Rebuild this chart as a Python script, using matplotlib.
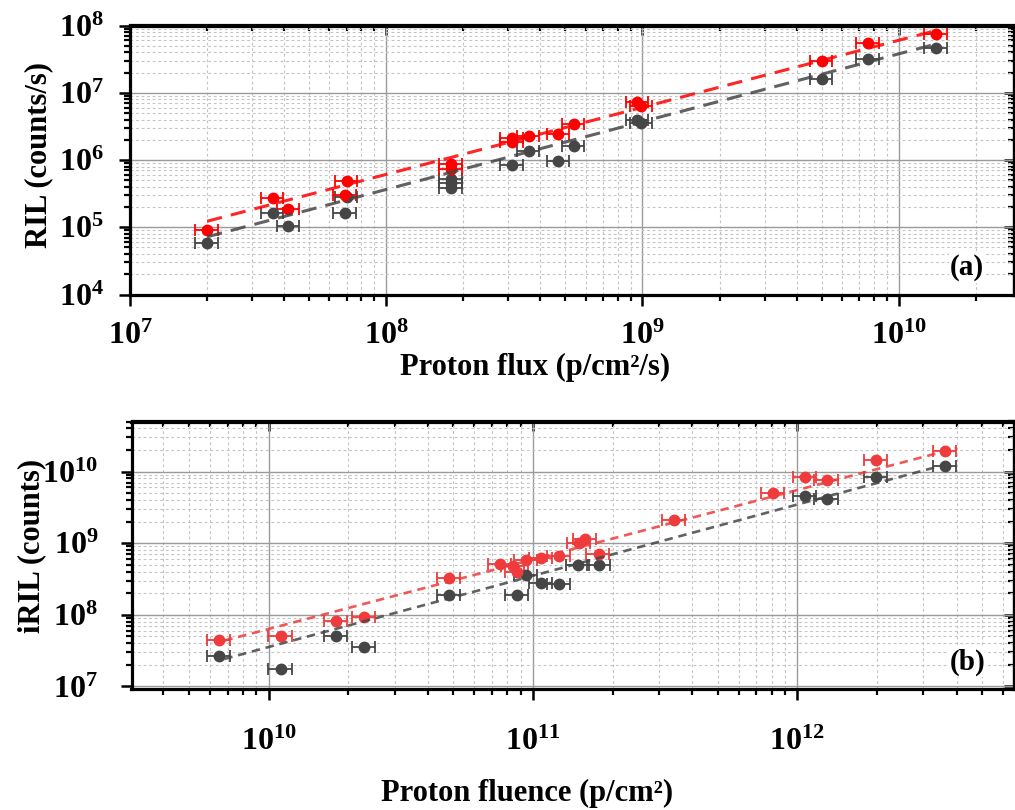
import numpy as np
import matplotlib
matplotlib.use("Agg")
import matplotlib.pyplot as plt
from matplotlib.ticker import LogLocator, FuncFormatter, NullFormatter

plt.rcParams['font.family'] = ['Liberation Serif', 'DejaVu Serif']
plt.rcParams['font.weight'] = 'bold'
plt.rcParams['mathtext.fontset'] = 'custom'
plt.rcParams['mathtext.rm'] = 'Liberation Serif:bold'
plt.rcParams['mathtext.bf'] = 'Liberation Serif:bold'
plt.rcParams['mathtext.it'] = 'Liberation Serif:bold:italic'

# ---------------- Panel (a): RIL vs proton flux ----------------
flux_red = [2.0e7, 3.6e7, 4.15e7, 7.0e7, 6.9e7, 1.79e8, 1.79e8, 3.1e8, 3.1e8,
            3.6e8, 4.7e8, 5.4e8, 9.55e8, 9.9e8, 5.0e9, 7.6e9, 1.4e10]
ril_red = [9.0e4, 2.75e5, 1.85e5, 4.9e5, 3.0e5, 8.6e5, 7.4e5, 2.1e6, 1.85e6,
           2.25e6, 2.45e6, 3.45e6, 7.3e6, 6.3e6, 2.95e7, 5.5e7, 7.5e7]

flux_grey = [2.0e7, 3.6e7, 4.15e7, 6.9e7, 7.0e7, 1.79e8, 1.79e8, 1.79e8, 3.1e8,
             3.6e8, 4.7e8, 5.4e8, 9.55e8, 9.9e8, 5.0e9, 7.6e9, 1.4e10]
ril_grey = [5.8e4, 1.65e5, 1.06e5, 1.65e5, 2.8e5, 5.3e5, 4.5e5, 3.9e5, 8.3e5,
            1.35e6, 9.6e5, 1.6e6, 4.0e6, 3.6e6, 1.6e7, 3.2e7, 4.6e7]

# power-law fits (log10 y = slope * log10 x + intercept) and x-range of each fit line
fitA_red = [0.997, -2.190]
fitA_grey = [1.008, -2.502]
fitA_range = [2.0e7, 1.4e10]

# ---------------- Panel (b): iRIL vs proton fluence ----------------
flu_red = [6.5e9, 1.11e10, 1.8e10, 2.3e10, 4.8e10, 7.5e10, 8.4e10, 8.7e10, 9.4e10,
           1.07e11, 1.26e11, 1.49e11, 1.58e11, 1.77e11, 3.43e11, 8.1e11, 1.07e12,
           1.29e12, 1.98e12, 3.62e12]
iril_red = [4.4e7, 5.0e7, 8.1e7, 9.3e7, 3.25e8, 5.15e8, 4.8e8, 4.0e8, 5.9e8,
            6.2e8, 6.7e8, 1.02e9, 1.15e9, 7.1e8, 2.12e9, 5.1e9, 8.5e9,
            7.7e9, 1.46e10, 1.95e10]

flu_grey = [6.5e9, 1.11e10, 1.8e10, 2.3e10, 4.8e10, 8.7e10, 9.4e10, 1.07e11,
            1.26e11, 1.48e11, 1.78e11, 1.07e12, 1.29e12, 1.98e12, 3.62e12]
iril_grey = [2.65e7, 1.75e7, 5.1e7, 3.6e7, 1.9e8, 1.9e8, 3.55e8, 2.8e8,
             2.65e8, 4.9e8, 4.9e8, 4.5e9, 4.2e9, 8.5e9, 1.2e10]

fitB_red = [0.970, -1.898]
fitB_grey = [0.995, -2.400]
fitB_red_range = [6.8e9, 4.0e12]
fitB_grey_range = [6.8e9, 3.6e12]

rel_xerr = 0.10  # relative horizontal uncertainty

RED_A = '#ff0000'
RED_B = '#ef3b3b'
GREY = '#464646'

fig = plt.figure(figsize=(10.15, 8.10), dpi=100)
axA = fig.add_axes([130 / 1015, 1 - 294.5 / 810, (1014 - 130) / 1015, (294.5 - 25.5) / 810])
axB = fig.add_axes([131.5 / 1015, 1 - 689 / 810, (1014 - 131.5) / 1015, (689 - 421.5) / 810])


def pow_fmt(v, pos):
    if v <= 0:
        return ''
    e = int(round(np.log10(v)))
    return r'$\mathbf{10^{%d}}$' % e


def style_axes(ax, xlim, ylim):
    ax.set_xscale('log')
    ax.set_yscale('log')
    ax.set_xlim(*xlim)
    ax.set_ylim(*ylim)
    ax.xaxis.set_major_locator(LogLocator(base=10, numticks=20))
    ax.yaxis.set_major_locator(LogLocator(base=10, numticks=20))
    ax.xaxis.set_minor_locator(LogLocator(base=10, subs=np.arange(2, 10), numticks=40))
    ax.yaxis.set_minor_locator(LogLocator(base=10, subs=np.arange(2, 10), numticks=40))
    ax.xaxis.set_major_formatter(FuncFormatter(pow_fmt))
    ax.yaxis.set_major_formatter(FuncFormatter(pow_fmt))
    ax.xaxis.set_minor_formatter(NullFormatter())
    ax.yaxis.set_minor_formatter(NullFormatter())
    ax.grid(True, which='major', color='#9a9a9a', lw=1.0, ls='-')
    ax.grid(True, which='minor', color='#c4c4c4', lw=0.8, ls=(0, (2.5, 2.5)))
    ax.set_axisbelow(True)
    for s in ax.spines.values():
        s.set_linewidth(2.3)
    ax.tick_params(which='major', direction='out', length=8, width=1.8, labelsize=23)
    ax.tick_params(which='minor', direction='out', length=4.5, width=1.6)
    # mirrored ticks pointing inward on top and right
    sx = ax.secondary_xaxis('top')
    sy = ax.secondary_yaxis('right')
    for sec, axis in ((sx, sx.xaxis), (sy, sy.yaxis)):
        axis.set_major_locator(LogLocator(base=10, numticks=20))
        axis.set_minor_locator(LogLocator(base=10, subs=np.arange(2, 10), numticks=40))
        axis.set_major_formatter(NullFormatter())
        axis.set_minor_formatter(NullFormatter())
        sec.tick_params(which='major', direction='in', length=7, width=1.8)
        sec.tick_params(which='minor', direction='in', length=4.5, width=1.6)
        for s in sec.spines.values():
            s.set_linewidth(2.3)


def draw_series(ax, x, y, fit, frange, color, ls, lw):
    x = np.asarray(x)
    y = np.asarray(y)
    ax.errorbar(x, y, xerr=rel_xerr * x, fmt='o', color=color, ms=7.5,
                ecolor=color, elinewidth=1.3, capsize=4, capthick=1.3, zorder=3)
    xf = np.logspace(np.log10(frange[0]), np.log10(frange[1]), 50)
    ax.plot(xf, 10 ** np.polyval(fit, np.log10(xf)), color=color, ls=ls, lw=lw,
            alpha=0.85, zorder=4)


# ---- panel (a)
style_axes(axA, (1e7, 2.82e10), (1e4, 1e8))
draw_series(axA, flux_grey, ril_grey, fitA_grey, fitA_range, GREY, (0, (5, 3)), 2.2)
draw_series(axA, flux_red, ril_red, fitA_red, fitA_range, RED_A, (0, (5, 3)), 2.2)
axA.set_xlabel('Proton flux (p/cm²/s)', fontsize=22, fontweight='bold')
axA.xaxis.set_label_coords(0.458, -0.218)
axA.set_ylabel('RIL (counts/s)', fontsize=22, fontweight='bold')
axA.yaxis.set_label_coords(-0.087, 0.52)
axA.tick_params(axis='x', which='major', pad=12)
axA.tick_params(axis='y', which='major', pad=11)
axA.text(0.947, 0.10, '(a)', transform=axA.transAxes, fontsize=21, fontweight='bold',
         ha='center', va='center', bbox=dict(facecolor='white', edgecolor='none', pad=1))

# ---- panel (b)
style_axes(axB, (3.03e9, 6.6e12), (9.2e6, 5.0e10))
draw_series(axB, flu_grey, iril_grey, fitB_grey, fitB_grey_range, GREY, (0, (3.2, 2.2)), 1.9)
draw_series(axB, flu_red, iril_red, fitB_red, fitB_red_range, RED_B, (0, (3.2, 2.2)), 1.9)
axB.set_xlabel('Proton fluence (p/cm²)', fontsize=22, fontweight='bold')
axB.xaxis.set_label_coords(0.448, -0.338)
axB.set_ylabel('iRIL (counts)', fontsize=22, fontweight='bold')
axB.yaxis.set_label_coords(-0.097, 0.533)
axB.tick_params(axis='x', which='major', pad=20)
axB.tick_params(axis='y', which='major', pad=16)
axB.text(0.947, 0.10, '(b)', transform=axB.transAxes, fontsize=21, fontweight='bold',
         ha='center', va='center', bbox=dict(facecolor='white', edgecolor='none', pad=1))

fig.savefig('out.png', dpi=100)
